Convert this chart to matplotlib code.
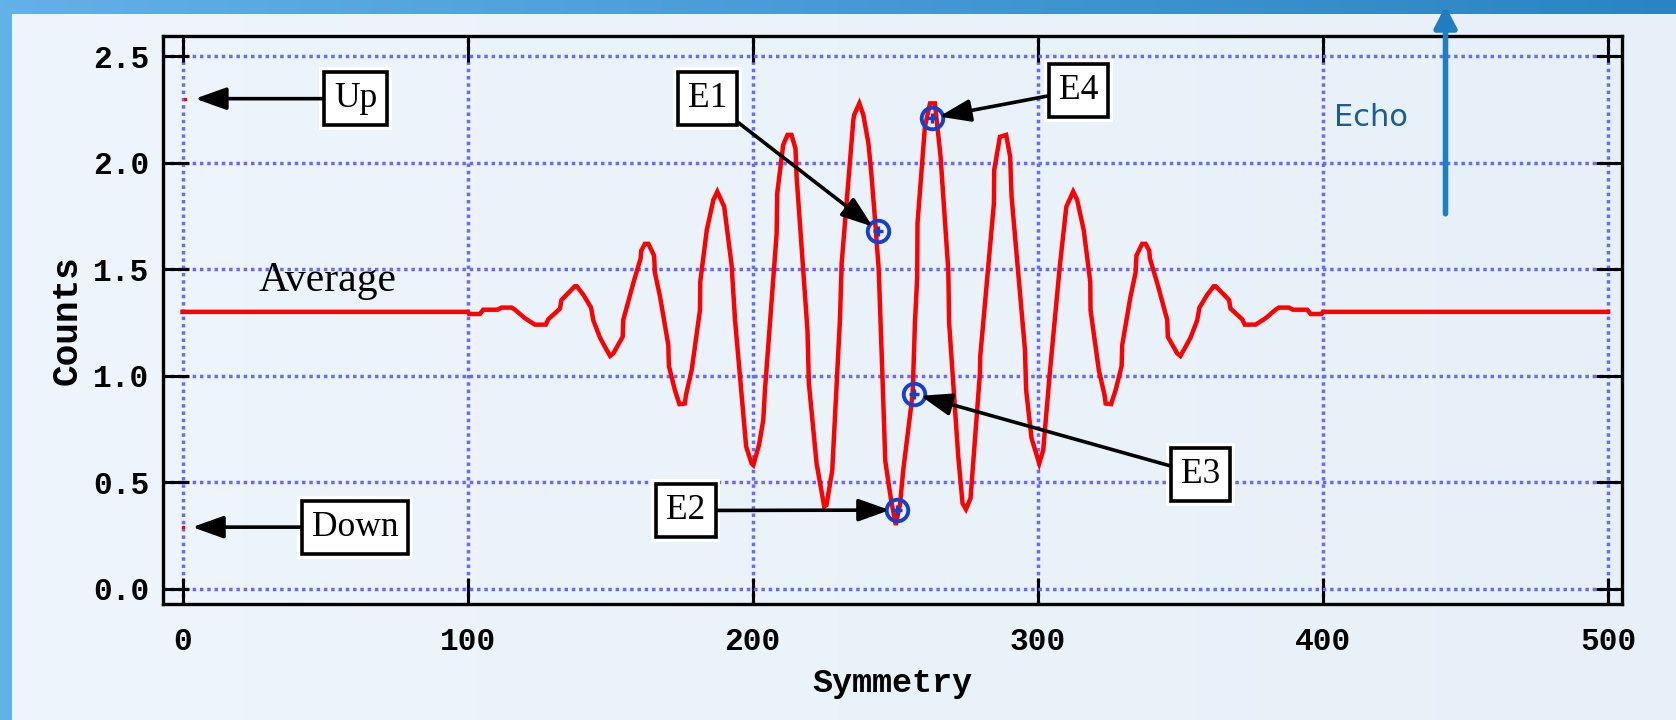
import numpy as np
import matplotlib
matplotlib.use("Agg")
import matplotlib.pyplot as plt

# ---------------- data ----------------
sym_x = [0, 100, 100.5, 104.3, 105.5, 110.5, 111.9, 115.5, 116.6, 120.1, 123.6, 127.4, 128.3,
         132.4, 132.9, 137.6, 138.3, 140.6, 143.3, 144.1, 146.4, 148.2, 150.0, 151.1, 154.4,
         154.6, 158.1, 160.7, 160.9, 162.2, 163.4, 165.4, 165.7, 167.5, 170.4, 170.6, 172.7,
         174.3, 176.2, 176.6, 178.6, 181.5, 181.6, 183.9, 186.2, 187.6, 190.0, 192.6, 193.8,
         197.7, 199.6, 200.2, 202.2, 203.7, 204.3, 208.4, 208.6, 210.7, 212.2, 213.6, 215.0,
         215.4, 219.2, 219.7, 222.4, 225.1, 225.9, 227.9, 230.6, 231.2, 235.3, 235.6, 237.4,
         238.8, 240.6, 241.7, 242.8, 244.2, 245.5, 246.5, 248.5, 250.2,
         251.7, 252.8, 256.1, 256.9, 257.7, 257.8, 260.4, 262.2, 263.9, 265.9, 268.6, 268.9,
         272.1, 273.6, 274.8, 276.4, 279.7, 279.8, 282.6, 284.6, 284.7, 286.7, 288.9, 290.3,
         290.8, 295.5, 295.9, 297.8, 300.5, 301.9, 304.2, 306.2, 307.7,
         310.0, 312.4, 313.8, 316.1, 318.4, 318.5, 321.4, 323.4, 323.8, 325.7, 327.3, 329.4,
         329.6, 332.5, 334.3, 334.6, 336.6, 337.8, 339.1, 339.3, 341.9, 345.4, 345.6, 348.9,
         350.0, 351.8, 353.6, 355.9, 356.7, 359.4, 361.7, 362.4, 367.1, 367.6, 371.7, 372.6,
         376.4, 379.9, 383.4, 384.5, 388.1, 389.5, 394.5, 395.7, 399.5, 400, 500]
counts_y = [1.30, 1.30, 1.29, 1.29, 1.31, 1.31, 1.32, 1.32, 1.31, 1.27, 1.24, 1.24, 1.265,
            1.315, 1.355, 1.42, 1.42, 1.38, 1.32, 1.26, 1.18, 1.135, 1.093, 1.105, 1.183,
            1.262, 1.434, 1.551, 1.587, 1.619, 1.619, 1.564, 1.484, 1.371, 1.144, 1.046, 0.933,
            0.867, 0.870, 0.910, 1.027, 1.308, 1.44, 1.684, 1.825, 1.864, 1.793, 1.52, 1.262,
            0.668, 0.589, 0.581, 0.675, 0.792, 0.933, 1.668, 1.856, 2.083, 2.13, 2.13, 2.067,
            1.934, 1.215, 0.965, 0.589, 0.386, 0.394, 0.557, 1.262, 1.528, 2.2, 2.224, 2.278,
            2.224, 2.09, 1.934, 1.75, 1.50, 1.00, 0.60, 0.42, 0.30,
            0.40, 0.557, 0.915, 1.247, 1.465, 1.715, 2.168, 2.278, 2.278, 2.027, 1.496, 1.247,
            0.621, 0.402, 0.374, 0.425, 1.012, 1.09, 1.512, 1.809, 1.965, 2.121, 2.13, 2.027,
            1.84, 1.121, 0.933, 0.707, 0.589, 0.652, 1.012, 1.30, 1.512,
            1.793, 1.864, 1.825, 1.684, 1.44, 1.308, 1.027, 0.910, 0.870, 0.867, 0.933, 1.046,
            1.144, 1.371, 1.484, 1.564, 1.619, 1.619, 1.587, 1.551, 1.434, 1.262, 1.183, 1.105,
            1.093, 1.135, 1.18, 1.26, 1.32, 1.38, 1.42, 1.42, 1.355, 1.315, 1.265, 1.24,
            1.24, 1.27, 1.31, 1.32, 1.32, 1.31, 1.31, 1.29, 1.29, 1.30, 1.30]

# marked points: label, point, text position
edge_labels = ["Up", "Down"]
edge_points = [(1, 2.30), (0, 0.29)]
edge_text = [(60.7, 2.30), (60.5, 0.29)]

echo_labels = ["E1", "E2", "E3", "E4"]
echo_points = [(244.0, 1.68), (250.5, 0.37), (256.5, 0.915), (263.0, 2.21)]
echo_text = [(184.1, 2.30), (176.6, 0.368), (357.2, 0.537), (314.3, 2.34)]

avg_label = "Average"
avg_pos = (51.0, 1.40)
echo_word = "Echo"
echo_word_pos = (417.0, 2.21)
echo_arrow_x = 443.0
echo_arrow_y = (1.76, 2.735)

xticks = [0, 100, 200, 300, 400, 500]
yticks = [0.0, 0.5, 1.0, 1.5, 2.0, 2.5]

# ---------------- figure ----------------
W, H = 1676, 720
fig = plt.figure(figsize=(W / 100, H / 100), dpi=100)
fig.patch.set_facecolor("#ECF4FB")

# background decoration
bg = fig.add_axes([0, 0, 1, 1], zorder=-5)
bg.axis("off")
t = np.linspace(0, 1, 256)[:, None]
c0 = np.array([0xEE, 0xF5, 0xFC]) / 255
c1 = np.array([0xE7, 0xF0, 0xF8]) / 255
inner = np.zeros((2, 256, 3))
inner[:] = c0 * (1 - t) + c1 * t
bg.imshow(inner, extent=[0, 1, 0, 1], aspect="auto", zorder=0)
b0 = np.array([0x62, 0xB1, 0xE8]) / 255
b1 = np.array([0x2A, 0x84, 0xC3]) / 255
top = np.zeros((2, 256, 3))
top[:] = b0 * (1 - t) + b1 * t
bg.imshow(top, extent=[0, 1, 1 - 14 / H, 1], aspect="auto", zorder=1)
bg.add_patch(plt.Rectangle((0, 0), 12 / W, 1 - 14 / H, color="#62B2EA", lw=0, zorder=1))
bg.set_xlim(0, 1)
bg.set_ylim(0, 1)

ax = fig.add_axes([163.4 / W, 1 - 604.3 / H, (1621.7 - 163.4) / W, (604.3 - 36) / H])
ax.set_facecolor("none")
ax.set_xlim(-6.7, 504.8)
ax.set_ylim(-0.072, 2.594)

ax.grid(True, color="#6A6AFF", lw=2.5, ls=(0, (1, 1.1)), zorder=0)
ax.set_axisbelow(True)

ax.plot(sym_x, counts_y, color="#FF0000", lw=3.2, zorder=2, solid_joinstyle="miter")

mono = "Liberation Mono"
serif = "Liberation Serif"

ax.set_xticks(xticks)
ax.set_yticks(yticks)
ax.set_xticklabels([f"{v:d}" for v in xticks], fontfamily=mono, fontweight="bold", fontsize=22.5)
ax.set_yticklabels([f"{v:.1f}" for v in yticks], fontfamily=mono, fontweight="bold", fontsize=22.5)
ax.tick_params(direction="in", length=19, width=2.2, top=True, right=True, color="black")
ax.tick_params(axis="x", pad=16)
ax.tick_params(axis="y", pad=10)
for s in ax.spines.values():
    s.set_linewidth(2.4)
    s.set_color("black")

ax.set_xlabel("Symmetry", fontfamily=mono, fontweight="bold", fontsize=24, labelpad=8)
ax.set_ylabel("Counts", fontfamily=mono, fontweight="bold", fontsize=26, labelpad=6)

arrow_kw = dict(arrowstyle="-|>,head_length=0.95,head_width=0.34", mutation_scale=20,
                color="black", lw=2.6, shrinkA=0)

def boxed(label, pt, txt, shrinkB):
    ax.text(txt[0], txt[1], label, ha="center", va="center", fontsize=25.5, family=serif,
            color="white", zorder=3.5,
            bbox=dict(boxstyle="square,pad=0.42", fc="white", ec="none"))
    ax.annotate(label, xy=pt, xytext=txt, ha="center", va="center", fontsize=25.5,
                family=serif, color="black", zorder=4,
                bbox=dict(boxstyle="square,pad=0.28", fc="white", ec="black", lw=2.6),
                arrowprops=dict(shrinkB=shrinkB, **arrow_kw))

for lab, pt, tx in zip(edge_labels, edge_points, edge_text):
    ax.plot([pt[0]], [pt[1]], "s", color="red", ms=2, zorder=3)
    boxed(lab, pt, tx, 7)

ex = [p[0] for p in echo_points]
ey = [p[1] for p in echo_points]
ax.plot(ex, ey, "o", mfc="none", mec="#1340CC", ms=15.5, mew=2.8, zorder=3)
ax.plot(ex, ey, "+", color="#1340CC", ms=7, mew=2.4, zorder=3)
for lab, pt, tx in zip(echo_labels, echo_points, echo_text):
    boxed(lab, pt, tx, 5)

ax.text(avg_pos[0], avg_pos[1], avg_label, ha="center", va="baseline", fontsize=30,
        family=serif, color="black", zorder=3)

ax.text(echo_word_pos[0], echo_word_pos[1], echo_word, ha="center", va="center",
        fontsize=22, family="DejaVu Sans", color="#1B5C98", zorder=3)
ann = ax.annotate("", xy=(echo_arrow_x, echo_arrow_y[1]), xytext=(echo_arrow_x, echo_arrow_y[0]),
                  annotation_clip=False,
                  arrowprops=dict(arrowstyle="-|>,head_length=0.65,head_width=0.34",
                                  mutation_scale=20, color="#1F7DC0", lw=4,
                                  shrinkA=0, shrinkB=0))
ann.arrow_patch.set_clip_on(False)

fig.savefig("out.png", dpi=100, facecolor=fig.get_facecolor())
